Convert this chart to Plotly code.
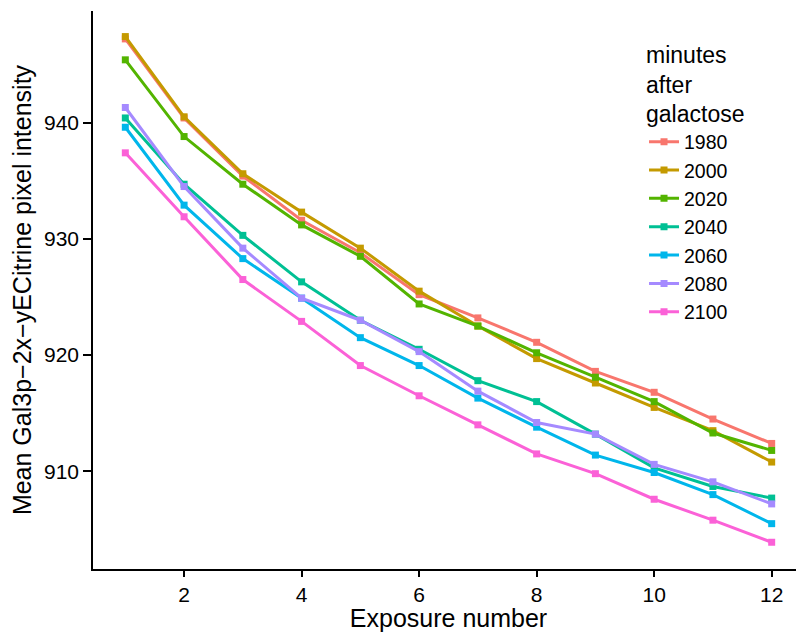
import plotly.graph_objects as go

exposure = [1, 2, 3, 4, 5, 6, 7, 8, 9, 10, 11, 12]
minutes = ["1980", "2000", "2020", "2040", "2060", "2080", "2100"]
colors = ["#F8766D", "#C49A00", "#53B400", "#00C094", "#00B6EB", "#A58AFF", "#FB61D7"]

v1980 = [947.2, 940.4, 935.4, 931.6, 928.8, 925.2, 923.2, 921.1, 918.6, 916.8, 914.5, 912.4]
v2000 = [947.4, 940.5, 935.6, 932.3, 929.2, 925.5, 922.5, 919.7, 917.6, 915.5, 913.5, 910.8]
v2020 = [945.4, 938.8, 934.7, 931.2, 928.5, 924.4, 922.5, 920.2, 918.1, 916.0, 913.3, 911.8]
v2040 = [940.4, 934.7, 930.3, 926.3, 923.0, 920.5, 917.8, 916.0, 913.2, 910.3, 908.7, 907.7]
v2060 = [939.6, 932.9, 928.3, 924.9, 921.5, 919.1, 916.3, 913.8, 911.4, 909.9, 908.0, 905.5]
v2080 = [941.3, 934.5, 929.2, 924.9, 923.0, 920.3, 916.9, 914.2, 913.2, 910.6, 909.1, 907.2]
v2100 = [937.4, 931.9, 926.5, 922.9, 919.1, 916.5, 914.0, 911.5, 909.8, 907.6, 905.8, 903.9]

series = [v1980, v2000, v2020, v2040, v2060, v2080, v2100]

fig = go.Figure()
for name, vals, col in zip(minutes, series, colors):
    fig.add_trace(go.Scatter(
        x=exposure, y=vals, name=name, mode="lines+markers",
        line=dict(color=col, width=3),
        marker=dict(symbol="square", size=7, color=col),
        legendgroup=name,
    ))

font = "Liberation Sans, Arial, Helvetica, sans-serif"
fig.update_layout(
    width=796, height=624,
    margin=dict(l=85, r=0, t=3, b=63),
    paper_bgcolor="white", plot_bgcolor="white",
    font=dict(family=font, color="black", size=21),
    showlegend=True,
    legend=dict(
        title=dict(text="minutes<br>after<br>galactose", font=dict(size=23)),
        x=0.775, y=0.961, xanchor="left", yanchor="top",
        font=dict(size=19.5), tracegroupgap=0, itemwidth=30,
        bgcolor="rgba(0,0,0,0)",
    ),
    xaxis=dict(
        range=[0.45, 12.55], tickvals=[2, 4, 6, 8, 10, 12],
        showgrid=False, zeroline=False, showline=True, linecolor="black", linewidth=1.5,
        ticks="outside", ticklen=6, tickcolor="black", tickwidth=1.5,
        tickfont=dict(size=21),
        title=dict(text="Exposure number", font=dict(size=25), standoff=2),
    ),
    yaxis=dict(
        range=[901.6, 949.6], tickvals=[910, 920, 930, 940],
        showgrid=False, zeroline=False, showline=True, linecolor="black", linewidth=1.5,
        ticks="outside", ticklen=8, tickcolor="black", tickwidth=1.5,
        tickfont=dict(size=21),
        title=dict(text="Mean Gal3p\u22122x\u2212yECitrine pixel intensity", font=dict(size=25), standoff=8),
    ),
)

fig.write_html("out.html")
